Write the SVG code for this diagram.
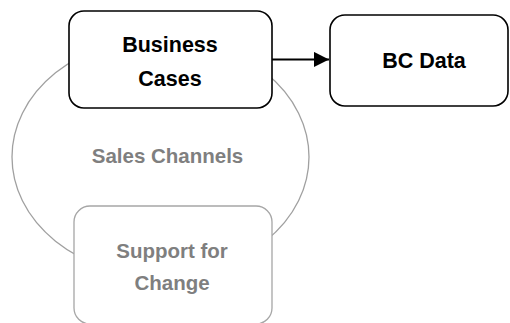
<svg xmlns="http://www.w3.org/2000/svg" width="510" height="323" viewBox="0 0 510 323">
<style>
.dark{fill:#fff;stroke:#000;stroke-width:1.6}
.light{fill:#fff;stroke:#a6a6a6;stroke-width:1.3}
.t{font-family:"Liberation Sans",Arial,sans-serif;font-weight:bold;text-anchor:middle}
.tb{fill:#000;font-size:21.5px}
.tg{fill:#7f7f7f;font-size:20.5px}
</style>
<defs>
<marker id="ah" markerWidth="8" markerHeight="8" refX="7.5" refY="4" orient="auto" markerUnits="strokeWidth">
<path d="M0,0.2 L7.5,4 L0,7.8 Z" fill="#000"/>
</marker>
</defs>
<g id="sales-channels">
<ellipse cx="160.5" cy="157" rx="148.5" ry="119" fill="none" stroke="#a0a0a0" stroke-width="1.3"/>
<text class="t tg" x="167.5" y="163">Sales Channels</text>
</g>
<g id="support-for-change">
<rect class="light" x="74" y="206" width="198" height="118" rx="16"/>
<text class="t tg" x="172" y="258">Support for</text>
<text class="t tg" x="172" y="290">Change</text>
</g>
<g id="business-cases">
<rect class="dark" x="69" y="11" width="203" height="97" rx="15"/>
<text class="t tb" x="170" y="52">Business</text>
<text class="t tb" x="170" y="86">Cases</text>
</g>
<g id="bc-data">
<rect class="dark" x="330" y="15" width="178" height="91" rx="15"/>
<text class="t tb" x="424" y="68">BC Data</text>
</g>
<g id="connectors">
<line x1="272" y1="59.5" x2="329" y2="59.5" stroke="#000" stroke-width="2" marker-end="url(#ah)"/>
</g>
</svg>
